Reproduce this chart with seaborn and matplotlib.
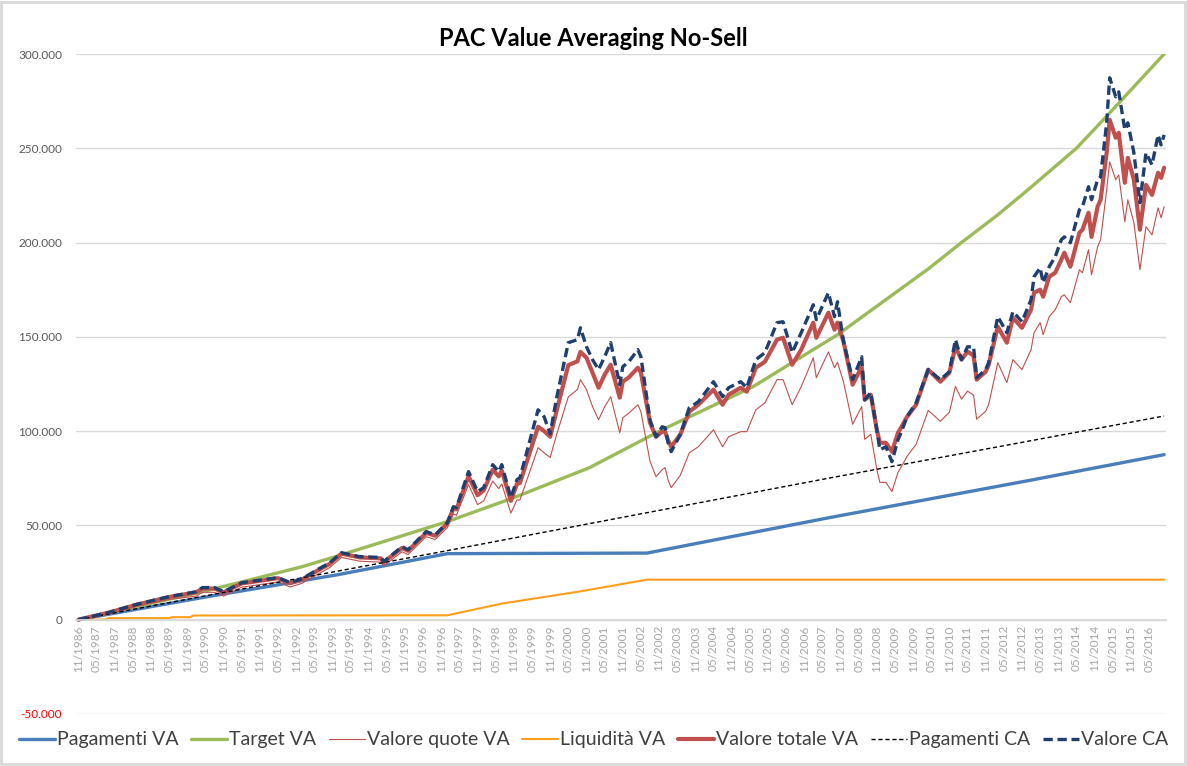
import numpy as np
import pandas as pd
import matplotlib
matplotlib.use("Agg")
import matplotlib.pyplot as plt
import matplotlib.ticker as mticker
from matplotlib.patches import Rectangle
import seaborn as sns

# ── Data (month index 0 = 11/1986) ────────────────────────────────────────────
pay_va_months = [0, 41, 86, 122, 188, 248, 314, 359]
pay_va = [0, 11700, 23900, 35000, 35300, 54000, 73700, 87500]

target_months = [0, 41, 57, 74, 85, 122, 144, 169, 193, 223, 251, 281, 292,
                 304, 314, 330, 340, 359]
target_va = [0, 14800, 21200, 28100, 33400, 52000, 64700, 80600, 100700,
             123500, 151100, 186000, 200000, 214700, 228000, 250000, 267000,
             300000]

liq_months = [0, 9, 10, 30, 31, 37, 38, 122, 140, 166, 188, 359]
liq_va = [0, 0, 800, 800, 1300, 1300, 2200, 2300, 8500, 15000, 21200, 21200]

pay_ca_months = [0, 120, 248, 359]
pay_ca = [0, 36000, 75000, 108000]

v_months = [0, 10, 19, 30, 39, 41, 45, 48, 54, 66, 70, 74, 79, 83, 87, 93, 100,
            101, 107, 109, 115, 118, 122, 124, 125, 129, 132, 134, 137, 139,
            140, 143, 145, 146, 152, 154, 156, 158, 162, 165, 166, 168, 170,
            172, 174, 176, 179, 180, 182, 185, 186, 189, 191, 193, 194, 195,
            196, 199, 202, 205, 210, 213, 215, 219, 221, 224, 227, 231, 233,
            236, 239, 243, 244, 248, 250, 251, 253, 256, 259, 260, 262, 264,
            265, 267, 269, 271, 272, 274, 277, 281, 285, 288, 290, 292, 294,
            296, 297, 300, 301, 304, 307, 309, 312, 315, 316, 318, 319, 321,
            323, 325, 326, 328, 331, 332, 334, 335, 337, 338, 340, 341, 343,
            344, 346, 347, 349, 351, 353, 355, 357, 358, 359]

valore_ca = [0, 3800, 8000, 12200, 14800, 17000, 17000, 14800, 19600, 22300,
             19600, 21700, 26500, 30000, 35500, 33400, 33000, 30800, 38700,
             37100, 46700, 45000, 51400, 59900, 59400, 78500, 67900, 70000,
             82200, 78500, 82200, 64700, 74200, 75300, 111300, 107600, 98500,
             116600, 146900, 148500, 154800, 144700, 137900, 132600, 139400,
             146900, 124600, 134100, 136800, 143200, 139400, 106000, 97000,
             102300, 101800, 93800, 89100, 98100, 112400, 115600, 126200,
             118200, 123000, 126200, 123000, 137900, 141600, 157500, 158000,
             141600, 152200, 167000, 159100, 173400, 160700, 168600, 147400,
             127300, 139400, 116600, 120400, 100700, 90100, 91700, 83800,
             95400, 99100, 107600, 115000, 132600, 127300, 131500, 148500,
             137900, 144700, 144700, 128300, 132600, 136300, 160700, 152200,
             163300, 158000, 169700, 181900, 186600, 178700, 187200, 192500,
             201500, 203000, 199900, 217400, 219000, 229600, 222700, 233300,
             234900, 263500, 287400, 277300, 279900, 259800, 263500, 247600,
             221100, 247600, 241200, 257100, 251800, 257100]

valore_tot_va = [0, 3700, 7800, 12000, 14500, 16500, 16500, 14500, 19200,
                 22000, 19300, 21300, 26000, 29500, 35000, 33000, 32500, 30500,
                 38000, 36500, 46000, 44500, 51000, 59000, 58500, 76000, 66000,
                 68500, 79500, 76000, 79000, 63000, 72000, 72500, 102300,
                 100000, 97000, 110000, 135000, 137000, 142000, 138900, 131000,
                 123000, 129900, 135200, 117700, 126200, 128500, 133600,
                 131000, 104400, 97000, 99700, 99700, 95000, 91700, 98100,
                 110300, 114000, 122000, 114000, 119300, 123000, 120900,
                 133600, 136800, 148500, 149500, 135200, 143200, 157500,
                 149500, 162800, 153800, 157500, 147400, 124600, 134100,
                 116600, 119300, 100700, 93800, 93800, 89100, 99100, 101800,
                 107600, 114000, 132600, 126200, 131000, 144700, 137900,
                 142200, 140000, 127300, 131500, 135200, 155400, 146900,
                 160100, 154800, 164400, 173400, 175000, 171300, 181900,
                 184000, 190900, 194600, 187200, 205200, 206800, 215800,
                 203000, 219000, 222700, 247600, 265100, 255600, 258200,
                 231700, 244900, 233300, 206800, 230600, 225300, 237000,
                 234300, 239700]

valore_quote_va = [0, 2900, 7000, 10700, 12500, 14500, 14500, 12500, 17200,
                   20000, 17300, 19300, 24000, 27500, 33000, 31000, 30500,
                   28500, 36000, 34500, 44000, 42500, 48800, 56000, 55300,
                   71600, 61000, 63000, 73500, 69500, 72000, 56500, 63500,
                   63500, 91200, 88500, 86000, 97500, 118200, 122000, 127300,
                   122000, 113000, 106000, 112900, 118200, 99100, 107100,
                   109500, 114000, 110300, 84000, 75800, 79500, 80600, 74000,
                   70000, 76500, 88500, 91700, 100700, 91700, 97000, 99700,
                   99700, 111300, 115000, 127300, 127300, 114000, 123500,
                   138900, 128300, 142000, 133600, 136500, 126000, 103600,
                   113000, 95600, 98300, 79700, 72800, 72800, 67900, 78100,
                   80800, 86600, 93000, 111000, 105200, 110000, 123700, 116900,
                   121200, 119000, 106300, 110500, 114200, 136300, 125700,
                   137900, 132600, 143200, 152200, 157500, 151100, 160700,
                   164400, 171300, 172300, 168100, 185600, 184000, 196200,
                   182900, 197800, 201500, 228000, 242800, 233300, 235900,
                   211000, 222700, 210500, 185600, 208400, 204100, 218400,
                   213100, 219000]

tick_months = list(range(0, 360, 6))
tick_labels = list(pd.date_range("1986-11-01", periods=60, freq="6MS").strftime("%m/%Y"))

# ── Style ─────────────────────────────────────────────────────────────────────
sns.set_theme(style="white")
plt.rcParams["font.family"] = ["Lato", "DejaVu Sans"]

BLUE = "#4A7EBB"
GREEN = "#9BBB59"
RED = "#C0504D"
ORANGE = "#FF9E1B"
NAVY = "#1F3F6E"
GRID = "#D9D9D9"

fig = plt.figure(figsize=(11.87, 7.66), dpi=100)
ax = fig.add_axes([0.064, 0.068, 0.918, 0.8615])

sns.lineplot(x=pay_va_months, y=pay_va, ax=ax, color=BLUE, lw=2.4,
             label="Pagamenti VA")
sns.lineplot(x=target_months, y=target_va, ax=ax, color=GREEN, lw=2.4,
             label="Target VA")
sns.lineplot(x=v_months, y=valore_quote_va, ax=ax, color=RED, lw=0.8,
             label="Valore quote VA")
sns.lineplot(x=liq_months, y=liq_va, ax=ax, color=ORANGE, lw=1.5,
             label="Liquidità VA")
sns.lineplot(x=v_months, y=valore_tot_va, ax=ax, color=RED, lw=3.0,
             label="Valore totale VA")
sns.lineplot(x=pay_ca_months, y=pay_ca, ax=ax, color="black", lw=1.0,
             linestyle=(0, (3, 2)), label="Pagamenti CA")
sns.lineplot(x=v_months, y=valore_ca, ax=ax, color=NAVY, lw=2.4,
             linestyle=(0, (2.8, 1.4)), label="Valore CA")

ax.set_xlim(-0.8, 359.5)
ax.set_ylim(-50000, 300000)
ax.set_yticks(range(-50000, 300001, 50000))
ax.yaxis.set_major_formatter(mticker.FuncFormatter(
    lambda v, _: f"{int(v):,}".replace(",", ".")))
ax.tick_params(axis="y", length=0, pad=10, labelsize=8.5, labelcolor="#595959")
ax.grid(axis="y", color=GRID, lw=1)

ax.set_xticks(tick_months)
ax.set_xticklabels(tick_labels)
ax.tick_params(axis="x", length=0, pad=4, labelsize=8.5, labelcolor="#A6A6A6",
               labelrotation=90)
ax.spines["bottom"].set_position(("data", 0))
ax.spines["bottom"].set_color(GRID)
for s in ["top", "right", "left"]:
    ax.spines[s].set_visible(False)
ax.set_xlabel("")
ax.set_ylabel("")

fig.canvas.draw()
for lab in ax.get_yticklabels():
    if lab.get_text().startswith("-") or lab.get_text().startswith("\u2212"):
        lab.set_color("red")

fig.text(0.5, 0.95, "PAC Value Averaging No-Sell", ha="center", va="center",
         fontsize=17, fontweight="bold", color="black")

handles, labels = ax.get_legend_handles_labels()
ax.get_legend().remove()
fig.legend(handles, labels, loc="center", bbox_to_anchor=(0.5, 0.034), ncol=7,
           frameon=False, fontsize=14, handlelength=1.85, handletextpad=0.1,
           columnspacing=0.65, labelcolor="#404040")

fig.patches.append(Rectangle((0.001, 0.002), 0.997, 0.996, transform=fig.transFigure,
                             fill=False, edgecolor=GRID, lw=2))

fig.savefig("out.png", dpi=100, facecolor="white")
